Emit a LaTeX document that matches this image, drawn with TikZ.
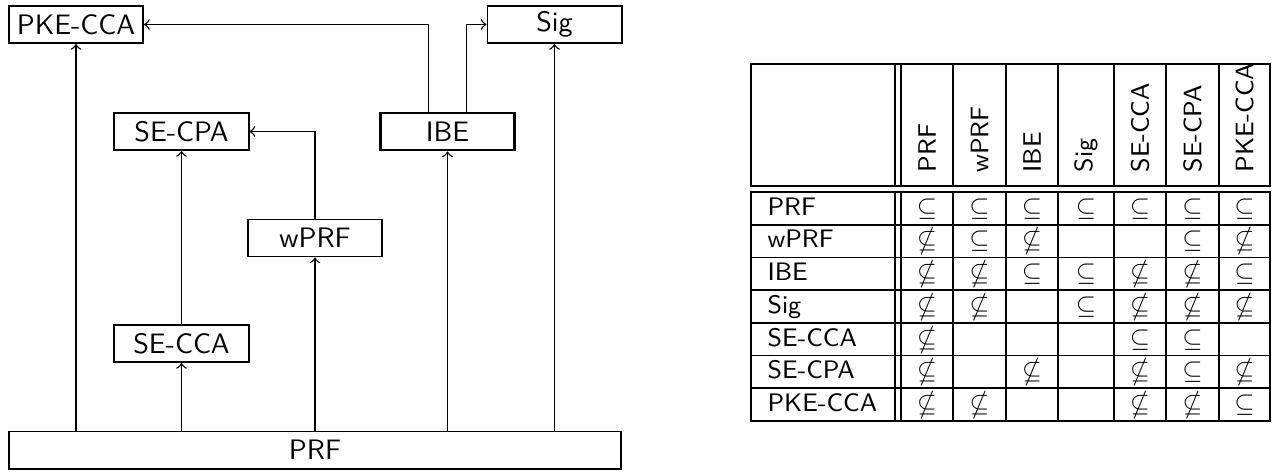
\documentclass[tikz,border=0pt]{standalone}
\usepackage{amssymb}
\renewcommand{\familydefault}{\sfdefault}
\tikzset{
  scheme/.style={draw, line width=0.7pt, minimum width=1.675cm, minimum height=0.4625cm, inner sep=0pt},
  implies/.style={->, line width=0.5pt},
  rowlabel/.style={anchor=base west, inner sep=0pt, font=\small},
  collabel/.style={anchor=west, rotate=90, inner sep=0pt, font=\small},
  entry/.style={anchor=base, inner sep=0pt, font=\small},
  rule/.style={line width=0.6pt},
  boldrule/.style={line width=1pt},
}
\newcommand{\yes}{$\subseteq$}
\newcommand{\no}{$\nsubseteq$}

\begin{document}
\begin{tikzpicture}[x=0.0125cm, y=-0.0125cm, >=to]
    \useasboundingbox (0,0) rectangle (1273,472);

    % Die Bausteine
    \node[scheme] (pke) at (76,24.5) {PKE-CCA};
    \node[scheme] (sig) at (554.5,24.5) {Sig};
    \node[scheme] (secpa) at (181.5,131.5) {SE-CPA};
    \node[scheme, line width=1pt] (ibe) at (447.5,131.5) {IBE};
    \node[scheme] (wprf) at (315,238) {wPRF};
    \node[scheme] (secca) at (181.5,343.5) {SE-CCA};
    \node[scheme, minimum width=7.65cm] (prf) at (315,450) {PRF};

    % Aus PRF
    \draw[implies] (pke.south |- prf.north) -- (pke.south);
    \draw[implies] (secca.south |- prf.north) -- (secca.south);
    \draw[implies] (prf) -- (wprf);
    \draw[implies] (ibe.south |- prf.north) -- (ibe.south);
    \draw[implies] (sig.south |- prf.north) -- (sig.south);

    % Weitere Pfeile
    \draw[implies] (secca) -- (secpa);
    \draw[implies] (wprf.north) |- (secpa.east);
    \draw[implies] ([xshift=-0.24cm]ibe.north) |- (pke.east);
    \draw[implies] ([xshift=0.24cm]ibe.north) |- (sig.west);

    % Tabelle: Rahmen und Linien
    \draw[rule] (751,64) rectangle (1270,186);
    \draw[rule] (751,192) rectangle (1270,421);
    \foreach \i in {1,...,6}
        \draw[rule] (751,192+32.714*\i) -- (1270,192+32.714*\i);
    \foreach \x in {895,901,953,1006,1058,1166,1219} {
        \draw[rule] (\x,64) -- (\x,186);
        \draw[rule] (\x,192) -- (\x,421);
    }
    \draw[boldrule] (1114,64) -- (1114,186);
    \draw[boldrule] (1114,192) -- (1114,421);

    % Kopfzeile
    \foreach \x/\lab [count=\j] in {927/PRF, 979.5/wPRF, 1032/IBE, 1086/Sig, 1140/SE-CCA, 1192.5/SE-CPA, 1244.5/PKE-CCA}
        \node[collabel] (col\j) at (\x,173) {\lab};

    % Eintraege (y = enthalten, n = nicht enthalten, - = leer)
    \foreach \lab/\cells [count=\i] in {PRF/{y,y,y,y,y,y,y}, wPRF/{n,y,n,-,-,y,n}, IBE/{n,n,y,y,n,n,y}, Sig/{n,n,-,y,n,n,n}, SE-CCA/{n,-,-,-,y,y,-}, SE-CPA/{n,-,n,-,n,y,n}, PKE-CCA/{n,n,-,-,n,n,y}} {
        \pgfmathsetmacro\yb{192+32.714*\i-9.5}
        \node[rowlabel] (row\i) at (767,\yb) {\lab};
        \foreach \c [count=\j] in \cells {
            \pgfmathsetmacro\xc{{927,979.5,1032,1086,1140,1192.5,1244.5}[\j-1]}
            \if y\c \node[entry] (cell\i-\j) at (\xc,\yb) {\yes}; \fi
            \if n\c \node[entry] (cell\i-\j) at (\xc,\yb) {\no}; \fi
        }
    }
\end{tikzpicture}
\end{document}
